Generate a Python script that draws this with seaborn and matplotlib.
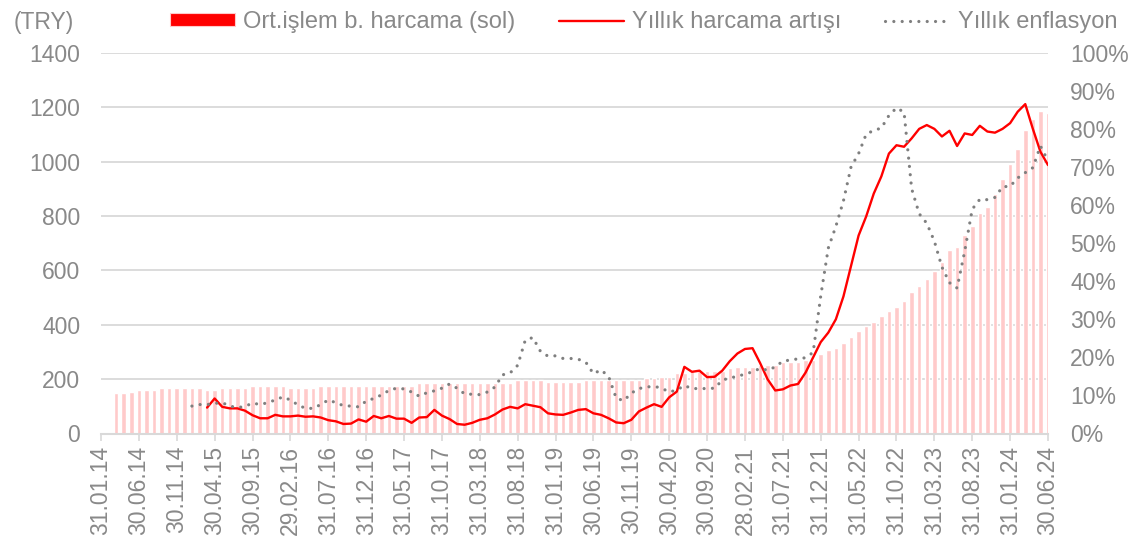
import numpy as np
import pandas as pd
import matplotlib
matplotlib.use('Agg')
import matplotlib.pyplot as plt
from matplotlib.patches import Patch
from matplotlib.lines import Line2D
import seaborn as sns

# aylar: 0 = Ocak 2014 ... 125 = Haziran 2024
ay_sayisi = 126

# Ort. islem basina harcama (TRY), ilk iki ay yok
harcama = [np.nan, np.nan, 150, 150, 152, 160, 160, 160, 167, 167, 167, 167, 167, 167,
           160, 160, 167, 167, 167, 167, 175, 175, 175, 175, 175, 167, 167, 167, 167,
           175, 175, 175, 175, 175, 175, 175, 175, 175, 175, 175, 175, 175,
           184, 184, 184, 184, 184, 184, 184, 184, 184, 184, 184, 184, 184,
           197, 197, 197, 197, 190, 190, 190, 190, 190,
           197, 197, 197, 197, 197, 197, 197, 197, 205, 205, 209, 209, 223, 223,
           230, 230, 230, 230, 230, 240, 246, 246, 246, 252, 252, 252, 264, 264, 264,
           270, 270, 292, 307, 315, 331, 354, 378, 395, 410, 433, 450, 464, 488, 520,
           542, 567, 598, 632, 675, 685, 730, 763, 810, 832, 880, 936, 990, 1045,
           1116, 1156, 1185, 1178]

# Yillik harcama artisi (%), 14. aydan itibaren
harcama_artisi = [6.8, 9.2, 7.0, 6.6, 6.6, 6.0, 4.8, 4.0, 4.0, 4.9, 4.5, 4.5, 4.7, 4.4,
                  4.5, 4.2, 3.5, 3.2, 2.5, 2.6, 3.7, 3.1, 4.6, 4.0, 4.6, 3.9, 3.9, 2.8,
                  4.2, 4.3, 6.2, 4.7, 3.8, 2.5, 2.3, 2.8, 3.6, 4.0, 5.0, 6.3, 7.0, 6.6,
                  7.7, 7.3, 6.9, 5.3, 5.0, 4.9, 5.5, 6.2, 6.4, 5.3, 4.9, 4.0, 2.9, 2.7,
                  3.6, 5.8, 6.8, 7.7, 7.0, 9.5, 11.0, 17.5, 16.2, 16.5, 14.8, 14.9, 16.5,
                  19.0, 21.0, 22.2, 22.4, 18.5, 14.2, 11.3, 11.6, 12.6, 13.0, 16.0, 20.0,
                  24.0, 26.5, 30.0, 36.0, 44.0, 52.0, 57.0, 63.0, 67.5, 73.5, 75.7, 75.3,
                  77.5, 80.0, 81.0, 80.0, 78.0, 79.5, 75.5, 78.8, 78.4, 80.8, 79.3, 79.0,
                  80.0, 81.5, 84.5, 86.5, 80.0, 74.0, 70.5]

# Yillik enflasyon (%), 12. aydan itibaren
enflasyon = [7.2, 7.6, 7.6, 7.9, 8.1, 7.2, 6.8, 7.1, 8.0, 7.6, 8.1, 8.8,
             9.6, 8.8, 7.5, 6.6, 6.6, 7.6, 8.8, 8.1, 7.3, 7.2, 7.0, 8.5,
             9.2, 10.1, 11.3, 11.9, 11.7, 10.9, 9.8, 10.7, 11.2, 11.9, 13.0, 11.9,
             10.4, 10.3, 10.2, 10.9, 12.2, 15.4, 15.9, 17.9, 24.5, 25.2, 21.6, 20.3,
             20.4, 19.7, 19.7, 19.5, 18.7, 15.7, 16.7, 15.0, 9.3, 8.6, 10.6, 11.8,
             12.2, 12.4, 11.9, 10.9, 11.4, 12.6, 11.8, 11.8, 11.8, 11.9, 14.0, 14.6,
             15.0, 15.6, 16.2, 17.1, 16.6, 17.5, 19.0, 19.3, 19.6, 19.9, 21.3, 36.1,
             48.7, 54.4, 61.1, 70.0, 73.5, 78.6, 79.6, 80.2, 83.5, 85.5, 84.4, 64.3,
             57.7, 55.2, 50.5, 43.7, 39.6, 38.2, 47.8, 58.9, 61.5, 61.4, 62.0, 64.8,
             64.9, 67.1, 68.5, 69.8, 75.5, 71.6]

x_etiketleri = ['31.01.14', '30.06.14', '30.11.14', '30.04.15', '30.09.15', '29.02.16',
                '31.07.16', '31.12.16', '31.05.17', '31.10.17', '31.03.18', '31.08.18',
                '31.01.19', '30.06.19', '30.11.19', '30.04.20', '30.09.20', '28.02.21',
                '31.07.21', '31.12.21', '31.05.22', '31.10.22', '31.03.23', '31.08.23',
                '31.01.24', '30.06.24']

df_bar = pd.DataFrame({'ay': np.arange(ay_sayisi), 'harcama': harcama})
df_art = pd.DataFrame({'ay': np.arange(ay_sayisi - len(harcama_artisi), ay_sayisi),
                       'deger': harcama_artisi})
df_enf = pd.DataFrame({'ay': np.arange(ay_sayisi - len(enflasyon), ay_sayisi),
                       'deger': enflasyon})

sns.set_theme(style='white')
plt.rcParams['font.family'] = ['Liberation Sans', 'DejaVu Sans']
gri_yazi = '#898989'
gri_cizgi = '#d9d9d9'
pembe = '#ffcaca'

fig = plt.figure(figsize=(11.35, 5.48), dpi=100)
ax = fig.add_axes([101 / 1135, 1 - 433.5 / 548, (1048 - 101) / 1135, (433.5 - 52.7) / 548])

sns.barplot(data=df_bar, x='ay', y='harcama', order=list(range(ay_sayisi)),
            color=pembe, saturation=1, width=0.6, ax=ax)
ax.set_ylim(0, 1400)
ax.set_yticks(range(0, 1401, 200))
ax.yaxis.grid(True, color=gri_cizgi, lw=1.3)
ax.set_axisbelow(True)
ax.set_xlabel('')
ax.set_ylabel('')

ax2 = ax.twinx()
sns.lineplot(data=df_art, x='ay', y='deger', color='#ff0000', lw=1.7, ax=ax2)
sns.lineplot(data=df_enf, x='ay', y='deger', color='#7f7f7f', lw=2.3,
             linestyle=(0, (0.01, 2.6)), dash_capstyle='round', ax=ax2)
ax2.set_ylim(0, 100)
ax2.set_yticks(range(0, 101, 10))
ax2.set_yticklabels([f'{v}%' for v in range(0, 101, 10)])
ax2.set_xlabel('')
ax2.set_ylabel('')

ax.set_xticks(range(0, ay_sayisi, 5))
ax.set_xticklabels(x_etiketleri, rotation=90)
ax.set_xlim(0, ay_sayisi - 1)

for a in (ax, ax2):
    for s in a.spines.values():
        s.set_visible(False)
ax.spines['bottom'].set_visible(True)
ax.spines['bottom'].set_color(gri_cizgi)
ax.spines['bottom'].set_linewidth(1.5)

ax.tick_params(axis='x', length=5, width=1.2, color=gri_cizgi, pad=4,
               labelsize=16.5, labelcolor=gri_yazi, bottom=True)
ax.tick_params(axis='y', length=0, pad=15, labelsize=16.5, labelcolor=gri_yazi)
ax2.tick_params(axis='y', length=0, pad=16, labelsize=16.5, labelcolor=gri_yazi)

fig.text(14 / 1135, 1 - 23 / 548, '(TRY)', ha='left', va='center',
         fontsize=16.5, color=gri_yazi)

tutamaclar = [Patch(facecolor='#ff0000', edgecolor=pembe, lw=0.8),
              Line2D([], [], color='#ff0000', lw=1.7),
              Line2D([], [], color='#7f7f7f', lw=2.3, linestyle=(0, (0.01, 2.6)),
                     dash_capstyle='round')]
etiketler = ['Ort.işlem b. harcama (sol)', 'Yıllık harcama artışı', 'Yıllık enflasyon']
fig.legend(tutamaclar, etiketler, loc='center left',
           bbox_to_anchor=(170 / 1135, 1 - 22 / 548), ncol=3, frameon=False,
           fontsize=17, labelcolor=gri_yazi, handlelength=2.75, handleheight=0.42,
           handletextpad=0.34, columnspacing=1.85, borderpad=0, borderaxespad=0)

fig.savefig('out.png', dpi=100)
